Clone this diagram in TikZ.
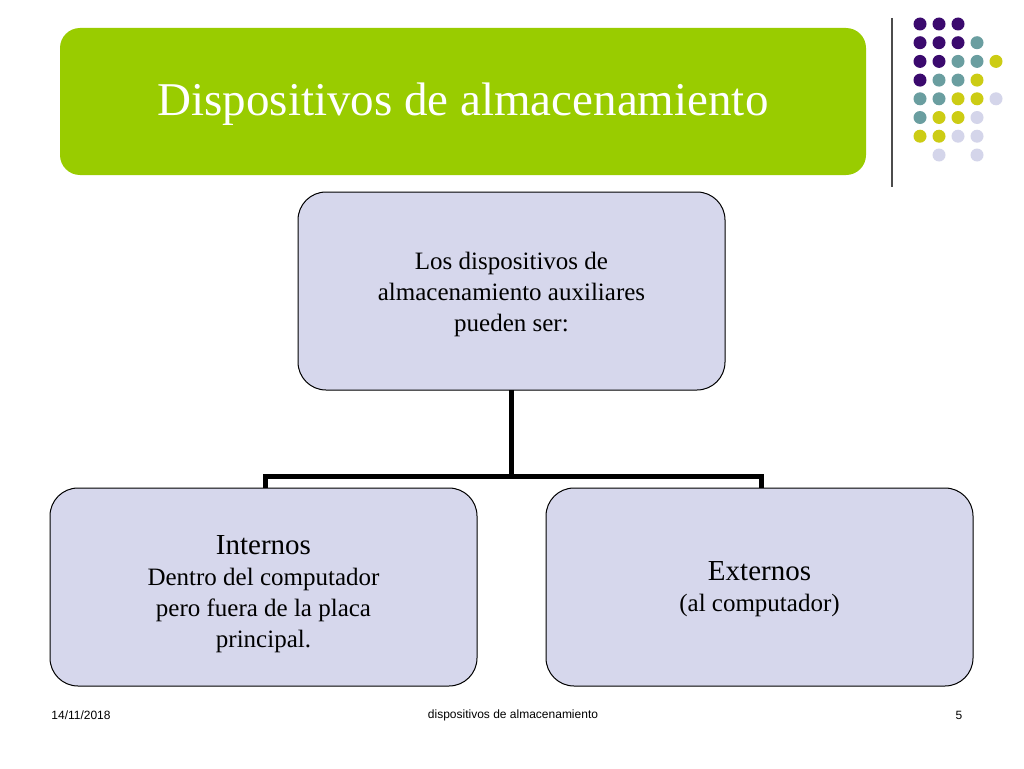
\documentclass[tikz,border=0pt]{standalone}
\usepackage{fontspec}
\setmainfont{Liberation Serif}
\newfontfamily\footfont{Liberation Sans}
\definecolor{cp}{HTML}{3B0A6E}
\definecolor{ct}{HTML}{6A9EA0}
\definecolor{cy}{HTML}{CCCC14}
\definecolor{cl}{HTML}{D4D5EA}
\definecolor{box}{HTML}{D6D7EC}
\definecolor{grn}{HTML}{99CC00}
\begin{document}
\begin{tikzpicture}[x=1pt,y=-1pt,
  bx/.style={draw=black,line width=1pt,fill=box,rounded corners=28pt},
  txt/.style={align=center,font=\fontsize{25}{31}\selectfont},
  dot/.style={circle,inner sep=0pt,minimum size=13pt},
  foot/.style={font=\footfont\fontsize{12}{14}\selectfont}]
\useasboundingbox (0,0) rectangle (1024,768);
\fill[white] (0,0) rectangle (1024,768);
\node[fill=grn,rounded corners=20pt,minimum width=806pt,minimum height=147pt,inner sep=0pt] (title) at (463,101.5) {};
\node[text=white,font=\fontsize{47}{50}\selectfont] (tt) at (463,104) {Dispositivos de almacenamiento};
\draw[line width=1.5pt,gray!60!black] (892,18) -- (892,187);
\foreach \r/\cs in {0/{p,p,p},1/{p,p,p,t},2/{p,p,t,t,y},3/{p,t,t,y},4/{t,t,y,y,l},5/{t,y,y,l},6/{y,y,l,l}}{
  \foreach \c [count=\i from 0] in \cs {
    \node[dot,fill=c\c] at (920+19*\i,24+18.7*\r) {};
  }
}
\node[dot,fill=cl] at (939,155) {};
\node[dot,fill=cl] at (977,155) {};
\draw[bx] (298,192) rectangle (725,390);
\node[txt] (top) at (511.5,294) {Los dispositivos de\\almacenamiento auxiliares\\pueden ser:};
\draw[bx] (50,488) rectangle (477,686);
\node[txt] (l) at (263.5,594) {{\fontsize{29}{33}\selectfont Internos}\\Dentro del computador\\pero fuera de la placa\\principal.};
\draw[bx] (546,488) rectangle (973,686);
\node[txt] (r) at (759.5,589) {{\fontsize{29}{33}\selectfont Externos}\\(al computador)};
\coordinate (tb) at (511.5,390);
\coordinate (lb) at (265,488);
\coordinate (rb) at (761,488);
\draw[line width=5pt] (tb) -- (511.5,476) -| (lb);
\draw[line width=5pt] (511.5,476) -| (rb);
\node[foot] (d) at (81,715) {14/11/2018};
\node[foot] (m) at (513,715) {dispositivos de almacenamiento};
\node[foot] (n) at (959,715) {5};
\end{tikzpicture}
\end{document}
